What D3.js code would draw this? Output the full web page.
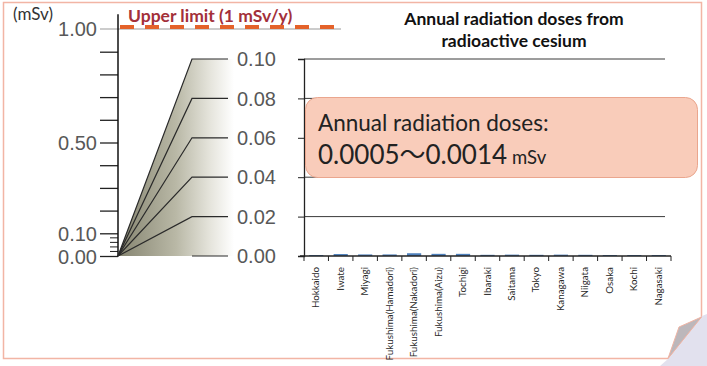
<!DOCTYPE html>
<html>
<head>
<meta charset="utf-8">
<script src="https://cdn.jsdelivr.net/npm/d3@7"></script>
<style>
  html, body { margin: 0; padding: 0; background: #ffffff; }
  svg { display: block; }
</style>
</head>
<body>
<svg id="chart" width="707" height="366"></svg>
<script>
// Regions sampled in the survey
const categories = [
  "Hokkaido", "Iwate", "Miyagi", "Fukushima(Hamadori)", "Fukushima(Nakadori)",
  "Fukushima(Aizu)", "Tochigi", "Ibaraki", "Saitama", "Tokyo",
  "Kanagawa", "Niigata", "Osaka", "Kochi", "Nagasaki"
];
// Annual dose from radioactive cesium, mSv
const cesiumDose = [
  0.0005, 0.0010, 0.0008, 0.0008, 0.0014,
  0.0011, 0.0011, 0.0006, 0.0007, 0.0006,
  0.0007, 0.0006, 0.0005, 0.0005, 0.0005
];
// Overview scale (0 - 1 mSv)
const overviewTicks = [0, 0.1, 0.2, 0.3, 0.4, 0.5, 0.6, 0.7, 0.8, 0.9, 1.0];
const overviewLabels = [0, 0.1, 0.5, 1.0];
const overviewFineTicks = [0.02, 0.04, 0.06, 0.08];
// Magnified scale (0 - 0.1 mSv)
const detailTicks = [0, 0.02, 0.04, 0.06, 0.08, 0.10];
const upperLimit = 1.0;

const svg = d3.select("#chart");
const font = "Lato, 'Open Sans', sans-serif";
const numFont = "'Liberation Sans', Arial, sans-serif";

// Page frame with folded corner
svg.append("path")
  .attr("d", "M3.5,2.5 H701.5 V317 L668,358.5 H3.5 Z")
  .attr("fill", "#ffffff")
  .attr("stroke", "#f2b5a5")
  .attr("stroke-width", 1.5);
svg.append("path")
  .attr("d", "M702,316 L707,314 L707,366 L660,366 L668,359 Z")
  .attr("fill", "#e2e1ee");
svg.append("path")
  .attr("d", "M668,358.5 L679,327 L701.5,317 Z")
  .attr("fill", "#bcb7bb")
  .attr("stroke", "#efb4a4")
  .attr("stroke-width", 1);

// Scales
const yOverview = d3.scaleLinear().domain([0, 1]).range([256, 29]);
const yDetail = d3.scaleLinear().domain([0, 0.1]).range([256, 59]);
const x = d3.scaleBand().domain(categories).range([304, 671])
  .paddingInner(0.42).paddingOuter(0.21);

// ---- Overview axis ----
const axisX = 118;
svg.append("text")
  .attr("x", 13).attr("y", 20)
  .attr("font-family", font).attr("font-size", 17)
  .attr("fill", "#333")
  .text("(mSv)");

// reference line at 1.00 running under the limit marker
svg.append("line")
  .attr("x1", 100).attr("x2", 341)
  .attr("y1", yOverview(upperLimit)).attr("y2", yOverview(upperLimit))
  .attr("stroke", "#9a9a9a").attr("stroke-width", 1.2);

const ov = svg.append("g").attr("transform", `translate(${axisX},0)`)
  .call(d3.axisLeft(yOverview)
    .tickValues(overviewTicks.filter(d => d !== 1.0))
    .tickSize(18).tickPadding(3)
    .tickFormat(d => overviewLabels.some(v => Math.abs(v - d) < 1e-9) ? d.toFixed(2) : ""));
ov.select(".domain").remove();
ov.selectAll(".tick line").attr("stroke", "#222").attr("stroke-width", 1.3);
ov.selectAll(".tick text")
  .attr("font-family", numFont)
  .attr("font-size", 20).attr("fill", "#585858")
  .attr("dy", "0.36em");

svg.append("text")
  .attr("x", 97).attr("y", yOverview(1.0))
  .attr("dy", "0.36em")
  .attr("text-anchor", "end")
  .attr("font-family", numFont)
  .attr("font-size", 20).attr("fill", "#585858")
  .text("1.00");

// fine ticks between 0 and 0.1
svg.append("g").selectAll("line")
  .data(overviewFineTicks).join("line")
  .attr("x1", axisX - 8).attr("x2", axisX)
  .attr("y1", d => yOverview(d)).attr("y2", d => yOverview(d))
  .attr("stroke", "#222").attr("stroke-width", 1);

// vertical axis line
svg.append("line")
  .attr("x1", axisX).attr("x2", axisX)
  .attr("y1", yOverview(1.065)).attr("y2", yOverview(0))
  .attr("stroke", "#111").attr("stroke-width", 1.5);

// upper limit marker
svg.append("line")
  .attr("x1", 120).attr("x2", 336)
  .attr("y1", yOverview(upperLimit) - 2).attr("y2", yOverview(upperLimit) - 2)
  .attr("stroke", "#e4622a").attr("stroke-width", 4)
  .attr("stroke-dasharray", "14,11");
svg.append("text")
  .attr("x", 128).attr("y", 22)
  .attr("font-family", font).attr("font-size", 17.5).attr("font-weight", "bold")
  .attr("fill", "#a3303a")
  .text("Upper limit (1 mSv/y)");

// ---- Magnifier fan from 0-0.1 to the detail scale ----
const defs = svg.append("defs");
const grad = defs.append("linearGradient")
  .attr("id", "fanFill").attr("gradientUnits", "userSpaceOnUse")
  .attr("x1", axisX).attr("x2", 234).attr("y1", 0).attr("y2", 0);
grad.append("stop").attr("offset", 0).attr("stop-color", "#858470");
grad.append("stop").attr("offset", 0.5).attr("stop-color", "#b9b8a6");
grad.append("stop").attr("offset", 0.8).attr("stop-color", "#e6e5dd");
grad.append("stop").attr("offset", 1).attr("stop-color", "#ffffff");

const fanX = 192, fanEnd = 228;
svg.append("path")
  .attr("d", `M${axisX},${yDetail(0)} L${fanX},${yDetail(0.1)} H234 V${yDetail(0)} Z`)
  .attr("fill", "url(#fanFill)");

svg.append("g").selectAll("path")
  .data(detailTicks).join("path")
  .attr("d", d => d === 0
    ? `M${fanX},${yDetail(0)} H${fanEnd}`
    : `M${axisX},${yOverview(0)} L${fanX},${yDetail(d)} H${fanEnd}`)
  .attr("fill", "none")
  .attr("stroke", "#2a2a2a").attr("stroke-width", 1.2);

svg.append("g").selectAll("text")
  .data(detailTicks).join("text")
  .attr("x", 237).attr("y", d => yDetail(d))
  .attr("dy", "0.36em")
  .attr("font-family", numFont)
  .attr("font-size", 20).attr("fill", "#585858")
  .text(d => d.toFixed(2));

// ---- Detail chart ----
const gridRight = 665;
svg.append("g").selectAll("line")
  .data(detailTicks.filter(d => d > 0)).join("line")
  .attr("x1", 304).attr("x2", gridRight)
  .attr("y1", d => yDetail(d)).attr("y2", d => yDetail(d))
  .attr("stroke", "#3a3a3a").attr("stroke-width", 1);

const yAx = svg.append("g").attr("transform", "translate(304,0)")
  .call(d3.axisLeft(yDetail).tickValues(detailTicks).tickSize(6).tickFormat(""));
yAx.select(".domain").attr("stroke", "#222").attr("stroke-width", 1.3);
yAx.selectAll(".tick line").attr("stroke", "#222");

// bars
svg.append("g").selectAll("rect")
  .data(categories).join("rect")
  .attr("x", d => x(d))
  .attr("width", x.bandwidth())
  .attr("y", (d, i) => yDetail(cesiumDose[i]))
  .attr("height", (d, i) => yDetail(0) - yDetail(cesiumDose[i]))
  .attr("fill", "#4f81bd");

// category axis
const step = x.step();
const x0 = 304;
svg.append("line")
  .attr("x1", 300).attr("x2", x0 + step * categories.length)
  .attr("y1", yDetail(0)).attr("y2", yDetail(0))
  .attr("stroke", "#222").attr("stroke-width", 1.3);
svg.append("g").selectAll("line")
  .data(d3.range(categories.length + 1)).join("line")
  .attr("x1", i => x0 + i * step).attr("x2", i => x0 + i * step)
  .attr("y1", yDetail(0)).attr("y2", yDetail(0) + 5)
  .attr("stroke", "#222").attr("stroke-width", 1);
svg.append("g").selectAll("text")
  .data(categories).join("text")
  .attr("transform", d => `translate(${x(d) + x.bandwidth() / 2 + 3},267) rotate(-90)`)
  .attr("text-anchor", "end")
  .attr("font-family", font).attr("font-size", 9.8)
  .attr("fill", "#2a2a2a")
  .text(d => d);

// title
svg.append("text")
  .attr("x", 514).attr("y", 25)
  .attr("text-anchor", "middle")
  .attr("font-family", font).attr("font-size", 17.5).attr("font-weight", "bold")
  .attr("fill", "#111")
  .selectAll("tspan")
  .data(["Annual radiation doses from", "radioactive cesium"]).join("tspan")
  .attr("x", 514).attr("dy", (d, i) => i === 0 ? 0 : 22)
  .text(d => d);

// summary callout
svg.append("rect")
  .attr("x", 305.5).attr("y", 97.5).attr("width", 392).attr("height", 80)
  .attr("rx", 12)
  .attr("fill", "#f9ccba").attr("stroke", "#eaa68e").attr("stroke-width", 1);
svg.append("text")
  .attr("x", 318).attr("y", 131)
  .attr("font-family", font).attr("font-size", 22.5)
  .attr("fill", "#222")
  .text("Annual radiation doses:");
const rangeText = svg.append("text")
  .attr("x", 318).attr("y", 164)
  .attr("font-family", "Lato, 'Noto Sans CJK JP', sans-serif").attr("font-size", 26)
  .attr("fill", "#222");
rangeText.append("tspan").text(`${d3.min(cesiumDose).toFixed(4)}～${d3.max(cesiumDose).toFixed(4)}`);
rangeText.append("tspan").attr("font-size", 18.5).attr("dx", 5).text("mSv");
</script>
</body>
</html>
